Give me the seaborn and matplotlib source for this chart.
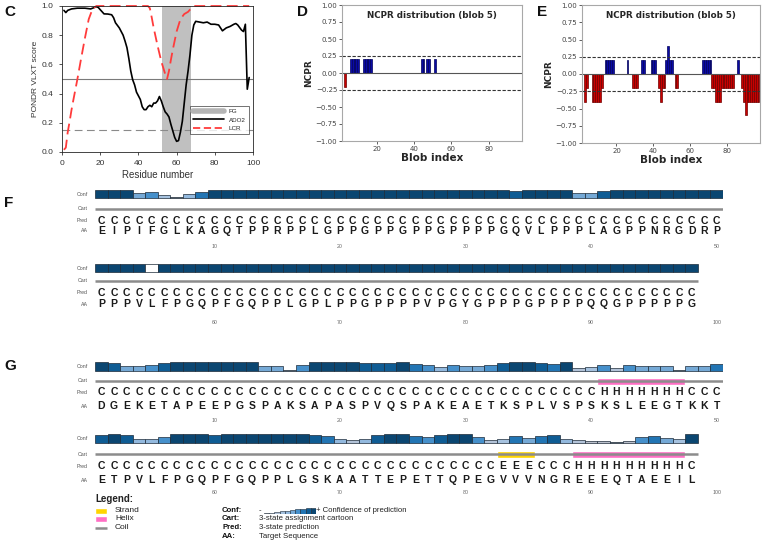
import matplotlib
matplotlib.use("Agg")
import matplotlib.pyplot as plt
from matplotlib.lines import Line2D
import seaborn as sns

W, H = 763, 540

# ---------------- panel C: PONDR VLXT ----------------
ado2_x = [1, 2, 3, 5, 8, 12, 15, 17, 18, 19, 20, 22, 24, 26, 27, 28, 30, 32, 33, 34,
          35, 36, 37, 38, 39, 40, 41, 42, 43, 44, 45, 46, 47, 48, 49, 50, 51, 52, 53, 54,
          55, 56, 57, 58, 59, 60, 61, 62, 63, 64, 65, 66, 67, 68, 69, 70, 72, 74, 76, 78,
          80, 82, 84, 86, 88, 90, 91, 92, 94, 95, 96, 97, 98]
ado2_y = [0.97, 0.955, 0.97, 0.98, 0.985, 0.985, 0.98, 0.99, 0.995, 0.99, 0.975, 0.946, 0.945, 0.94, 0.92, 0.885, 0.85, 0.80, 0.76, 0.715,
          0.64, 0.555, 0.495, 0.46, 0.41, 0.385, 0.36, 0.31, 0.29, 0.29, 0.31, 0.32, 0.31, 0.335, 0.335, 0.35, 0.38, 0.35, 0.31, 0.275,
          0.26, 0.24, 0.19, 0.145, 0.10, 0.073, 0.078, 0.136, 0.21, 0.335, 0.46, 0.555, 0.665, 0.80, 0.87, 0.895, 0.89, 0.885, 0.89, 0.875,
          0.875, 0.87, 0.83, 0.85, 0.86, 0.875, 0.88, 0.87, 0.835, 0.825, 0.875, 0.43, 0.51]
lcr_x = [1, 2, 3, 4, 5, 6, 8, 10, 12, 14, 16, 18, 45, 46, 47, 48, 50, 52, 54, 55,
         56, 57, 58, 60, 62, 64, 66, 67, 69, 98]
lcr_y = [0.015, 0.03, 0.136, 0.21, 0.29, 0.36, 0.495, 0.64, 0.78, 0.91, 0.98, 1.0, 1.0, 0.985, 0.92, 0.85, 0.73, 0.62, 0.535, 0.50,
         0.555, 0.63, 0.70, 0.825, 0.91, 0.945, 0.96, 0.975, 1.0, 1.0]
fg_region = (52.5, 67.5)

# ---------------- panels D / E: NCPR per blob ----------------
d_blob = [3, 6, 7, 8, 9, 10, 13, 14, 15, 16, 17, 44, 45, 47, 48, 51]
d_ncpr = [-0.2, 0.2, 0.2, 0.2, 0.2, 0.2, 0.2, 0.2, 0.2, 0.2, 0.2, 0.2, 0.2, 0.2, 0.2, 0.2]

e_blob = [3, 4, 7, 8, 9, 10, 11, 12, 14, 15, 16, 17, 18, 26, 29, 30, 31, 34, 35,
          39, 40, 41, 43, 44, 45, 46, 47, 48, 49, 50, 52, 53, 67, 68, 69, 70, 71,
          72, 73, 74, 75, 76, 77, 78, 79, 80, 81, 82, 83, 86,
          88, 89, 90, 91, 92, 93, 94, 95, 96, 97]
e_ncpr = [-0.4, -0.2, -0.4, -0.4, -0.4, -0.4, -0.4, -0.2, 0.2, 0.2, 0.2, 0.2, 0.2, 0.2, -0.2, -0.2, -0.2, 0.2, 0.2,
          0.2, 0.2, 0.2, -0.2, -0.4, -0.2, -0.2, 0.2, 0.4, 0.2, 0.2, -0.2, -0.2, 0.2, 0.2, 0.2, 0.2, 0.2,
          -0.2, -0.2, -0.4, -0.4, -0.4, -0.2, -0.2, -0.2, -0.2, -0.2, -0.2, -0.2, 0.2,
          -0.2, -0.4, -0.6, -0.4, -0.4, -0.4, -0.4, -0.4, -0.4, -0.4]

# ---------------- panels F / G: PSIPRED ----------------
f_aa = ["EIPIFGLKAGQTPPRPPLGPPGPPGPPGPPPPGQVLPPPLAGPPNRGDRP",
        "PPPVLFPGQPFGQPPLGPLPPGPPPPVPGYGPPPGPPPPQQGPPPPPG"]
f_pred = ["C" * 50, "C" * 48]
# confidence 0-9, -1 = blank box
f_conf = [[9, 9, 9, 5, 6, 3, 0, 4, 7, 9, 9, 9, 9, 9, 9, 9, 9, 9, 9, 9,
           9, 9, 9, 9, 9, 9, 9, 9, 9, 9, 9, 9, 9, 8, 9, 9, 9, 9, 5, 5,
           8, 9, 9, 9, 9, 9, 9, 9, 9, 9],
          [9, 9, 9, 9, -1, 9, 9, 9, 9, 9, 9, 9, 9, 9, 9, 9, 9, 9, 9, 9,
           9, 9, 9, 9, 9, 9, 9, 9, 9, 9, 9, 9, 9, 9, 9, 9, 9, 9, 9, 9,
           9, 9, 9, 9, 9, 9, 9, 9]]

g_aa = ["DGEKETAPEEPGSPAKSAPASPVQSPAKEAETKSPLVSPSKSLEEGTKKT",
        "ETPVLFPGQPFGQPPLGSKAATTEPETTQPEGVVVNGREEEQTAEEIL"]
g_pred = ["C" * 40 + "H" * 7 + "CCC",
          "C" * 32 + "EEE" + "CCC" + "H" * 9 + "C"]
g_conf = [[9, 8, 5, 5, 6, 8, 9, 9, 9, 9, 9, 9, 9, 5, 5, 0, 6, 9, 9, 9,
           9, 8, 8, 8, 9, 7, 6, 4, 6, 5, 5, 6, 8, 9, 9, 8, 7, 9, 2, 3,
           6, 2, 6, 5, 5, 5, 0, 5, 5, 7],
          [8, 9, 8, 4, 4, 6, 9, 9, 9, 8, 9, 9, 9, 9, 9, 9, 9, 8, 7, 4,
           2, 4, 8, 9, 9, 7, 6, 8, 9, 9, 6, 2, 3, 7, 5, 7, 8, 4, 2, 1,
           1, 0, 1, 6, 7, 5, 3, 9]]

conf_colors = ["#6f737b", "#b9bfcb", "#b3c3d8", "#a6c2df", "#93b9de",
               "#75a9d6", "#4690cb", "#2275b4", "#0f5c94", "#0b4671"]
ss_colors = {"H": "#ff6ec4", "E": "#ffd400"}

sns.set_style("ticks")
plt.rcParams["font.family"] = ["Liberation Sans", "DejaVu Sans"]

fig = plt.figure(figsize=(W / 100, H / 100), dpi=100)


def box(x0, y0, x1, y1):
    # pixel box -> figure fraction rect
    return [x0 / W, 1 - y1 / H, (x1 - x0) / W, (y1 - y0) / H]


def ftext(x, y, s, **kw):
    fig.text(x / W, 1 - y / H, s, **kw)


# ---------- C ----------
axc = fig.add_axes(box(62, 6, 253, 152))
axc.axvspan(*fg_region, color="#c0c0c0", lw=0)
axc.axhline(0.5, color="#7a7a7a", lw=0.8)
axc.axhline(0.15, color="#8a8a8a", lw=0.8, ls=(0, (7, 4)))
sns.lineplot(x=ado2_x, y=ado2_y, ax=axc, color="black", lw=1.2, clip_on=False)
sns.lineplot(x=lcr_x, y=lcr_y, ax=axc, color="#ff3b3b", lw=1.3,
             linestyle=(0, (6, 3)), clip_on=False)
axc.set_xlim(0, 100)
axc.set_ylim(0, 1)
axc.set_xticks(range(0, 101, 20))
axc.set_yticks([0, 0.2, 0.4, 0.6, 0.8, 1.0])
axc.set_yticklabels(["0.0", "0.2", "0.4", "0.6", "0.8", "1.0"])
axc.tick_params(labelsize=6, length=2.5, width=0.6, colors="#333333")
for s in axc.spines.values():
    s.set_linewidth(0.6)
axc.set_xlabel("Residue number", fontsize=7, color="#333333", labelpad=2)
axc.set_ylabel("PONDR VLXT score", fontsize=6, color="#333333", labelpad=2)
handles = [Line2D([], [], color="#b5b5b5", lw=4),
           Line2D([], [], color="black", lw=1.2),
           Line2D([], [], color="#ff3b3b", lw=1.3, ls=(0, (4, 2)))]
leg = axc.legend(handles, ["FG", "ADO2", "LCR"], loc="lower right",
                 bbox_to_anchor=(0.995, 0.1), fontsize=4.5, frameon=True,
                 fancybox=False, handlelength=5, borderpad=0.5, labelspacing=0.5)
leg.get_frame().set_edgecolor("#333333")
leg.get_frame().set_linewidth(0.6)

# ---------- D / E ----------
def ncpr_panel(rect, blobs, vals):
    ax = fig.add_axes(rect)
    cols = ["#c80000" if v < 0 else "#0a0aa5" for v in vals]
    edges = ["#6e0000" if v < 0 else "#00005a" for v in vals]
    ax.bar(blobs, vals, width=1, color=cols, edgecolor=edges, lw=0.5)
    ax.axhline(0, color="#555555", lw=0.8)
    for yv in (0.25, -0.25):
        ax.axhline(yv, color="#333333", lw=0.8, ls=(0, (3, 1.5)))
    ax.set_xlim(1.3, 97.8)
    ax.set_ylim(-1, 1)
    ax.set_yticks([1, 0.75, 0.5, 0.25, 0, -0.25, -0.5, -0.75, -1])
    ax.set_yticklabels(["1.00", "0.75", "0.50", "0.25", "0.00", "\u22120.25",
                        "\u22120.50", "\u22120.75", "\u22121.00"])
    ax.set_xticks([20, 40, 60, 80])
    for lab in ax.get_xticklabels() + ax.get_yticklabels():
        lab.set_family("DejaVu Sans")
    ax.tick_params(labelsize=5, length=2, width=0.6, colors="#444444", pad=1.5)
    for s in ax.spines.values():
        s.set_color("#a8a8a8")
        s.set_linewidth(0.8)
    ax.set_xlabel("Blob index", fontsize=7.5, fontweight="bold", family="DejaVu Sans", labelpad=1)
    ax.set_ylabel("NCPR", fontsize=6.5, fontweight="bold", family="DejaVu Sans", labelpad=2)
    ax.text(0.5, 0.925, "NCPR distribution (blob 5)", transform=ax.transAxes,
            ha="center", va="center", fontsize=6.3, fontweight="bold", family="DejaVu Sans")
    return ax


ncpr_panel(box(342, 5, 522, 141), d_blob, d_ncpr)
ncpr_panel(box(582, 5, 760, 143), e_blob, e_ncpr)

# ---------- F / G ----------
def seq_block(aa, pred, conf, offset, ys, conf_h):
    conf_base, cart_y, pred_y, aa_y, num_y = ys
    top, bottom = conf_base - conf_h - 4, num_y + 5
    ax = fig.add_axes(box(95, top, 723, bottom))
    ax.set_xlim(0.5, 50.5)
    ax.set_ylim(bottom, top)
    ax.axis("off")
    n = len(aa)
    pos = list(range(1, n + 1))
    heights = [conf_h if c < 0 else conf_h * (c + 1) / 10 for c in conf]
    fills = ["white" if c < 0 else conf_colors[c] for c in conf]
    ax.bar(pos, [-h for h in heights], bottom=conf_base, width=1, color=fills,
           edgecolor="#1c2a38", lw=0.5)
    ax.plot([0.5, n + 0.5], [cart_y, cart_y], color="#8c8c8c", lw=1.8,
            solid_capstyle="butt")
    # secondary-structure segments from the prediction string
    i = 0
    while i < n:
        j = i
        while j < n and pred[j] == pred[i]:
            j += 1
        if pred[i] in ss_colors:
            ax.broken_barh([(i + 0.5, j - i)], (cart_y - 3.5, 7),
                           facecolors=ss_colors[pred[i]])
        i = j
    for k in range(n):
        ax.text(k + 1, pred_y, pred[k], ha="center", va="center", fontsize=7.5,
                fontweight="bold", color="#1a1a1a")
        ax.text(k + 1, aa_y, aa[k], ha="center", va="center", fontsize=7.5,
                fontweight="bold", color="#1a1a1a")
    for lab, yv in zip(["Conf", "Cart", "Pred", "AA"],
                       [conf_base - conf_h / 2, cart_y, pred_y, aa_y]):
        ax.text(-0.05, yv, lab, ha="right", va="center", fontsize=3.8, color="#555555")
    for p in range(10, 51, 10):
        ax.text(p, num_y, str(p + offset), ha="center", va="center", fontsize=3.8,
                color="#666666")


seq_block(f_aa[0], f_pred[0], f_conf[0], 0, (198, 209, 221, 231, 247), 8)
seq_block(f_aa[1], f_pred[1], f_conf[1], 50, (272, 281, 293, 304, 322), 8)
seq_block(g_aa[0], g_pred[0], g_conf[0], 0, (371, 381, 392, 406, 420), 9)
seq_block(g_aa[1], g_pred[1], g_conf[1], 50, (443, 454, 466, 480, 492), 9)

# ---------- PSIPRED legend ----------
leg_fs = 5.6
rows_y = [510.5, 519, 527.5, 536]
ftext(95, 499, "Legend:", fontsize=7, fontweight="bold", color="#222222", va="center")
axl = fig.add_axes(box(95, 505, 110, 532))
axl.set_xlim(0, 1)
axl.set_ylim(532, 505)
axl.axis("off")
axl.broken_barh([(0, 0.8)], (rows_y[0] - 3, 6), facecolors=ss_colors["E"])
axl.broken_barh([(0, 0.8)], (rows_y[1] - 3, 6), facecolors=ss_colors["H"])
axl.plot([0, 0.8], [rows_y[2], rows_y[2]], color="#8c8c8c", lw=1.8, solid_capstyle="butt")
for s, yv in zip(["Strand", "Helix", "Coil"], rows_y[:3]):
    ftext(115, yv, s, fontsize=leg_fs + 0.4, va="center", color="#222222")

for s, d, yv in zip(["Conf:", "Cart:", "Pred:", "AA:"],
                    ["", "3-state assignment cartoon", "3-state prediction", "Target Sequence"],
                    rows_y):
    ftext(222, yv, s, fontsize=leg_fs, fontweight="bold", va="center", color="#111111")
    if d:
        ftext(259, yv, d, fontsize=leg_fs, va="center", color="#222222")
ftext(259, rows_y[0], "-", fontsize=leg_fs, va="center")
ftext(316, rows_y[0], "+ Confidence of prediction", fontsize=leg_fs, va="center", color="#222222")
levels = list(range(10))
axg = fig.add_axes(box(264, rows_y[0] - 3, 316, rows_y[0] + 3.5))
axg.set_xlim(-0.5, 9.5)
axg.set_ylim(0, 1)
axg.axis("off")
axg.bar(levels, [(v + 1) / 10 for v in levels], width=1,
        color=[conf_colors[v] for v in levels], edgecolor="#1c2a38", lw=0.4)

# panel letters
for s, x, y in [("C", 4, 12), ("D", 297, 12), ("E", 537, 12), ("F", 4, 203), ("G", 4, 366)]:
    ftext(x, y, s, fontsize=11, fontweight="bold", va="center", color="#111111")

fig.savefig("out.png", dpi=100)
